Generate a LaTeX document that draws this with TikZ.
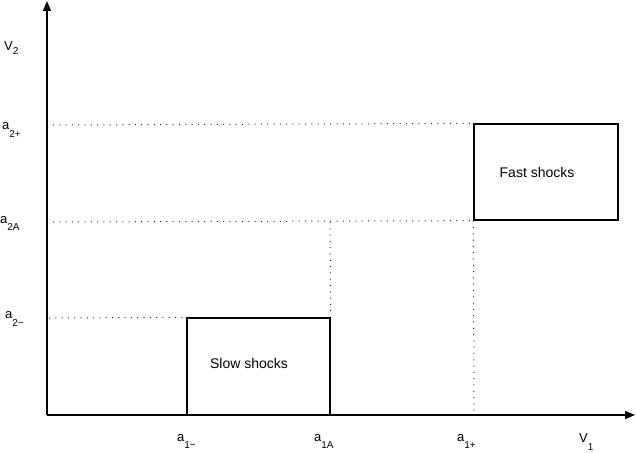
\documentclass[tikz,border=0pt]{standalone}
\usepackage{fontspec}
\setmainfont{Liberation Sans}
\usetikzlibrary{arrows.meta}
\newcommand{\lab}[3]{#1\raisebox{-#3pt}{\fontsize{10}{11}\selectfont #2}}
\begin{document}
\begin{tikzpicture}[x=1pt,y=-1pt,
  axis/.style={line width=1.5pt,-{Triangle[length=10pt,width=8pt]}},
  guide/.style={black!85,line width=1pt,dash pattern=on 1pt off 5.3pt},
  shockbox/.style={draw,line width=1.3pt,rectangle,inner sep=0pt},
  axlabel/.style={anchor=base west,inner sep=0pt,font=\fontsize{13}{15}\selectfont},
  boxtext/.style={anchor=base,inner sep=0pt,font=\fontsize{14}{16}\selectfont}]
\useasboundingbox (0,0) rectangle (636,452);
% coordinates
\coordinate (O) at (47,415);
\coordinate (ytop) at (47,1);
\coordinate (xend) at (635,415);
% boxes
\node[shockbox,minimum width=143pt,minimum height=97pt] (slow) at (258.5,366.5) {};
\node[shockbox,minimum width=144pt,minimum height=96pt] (fast) at (546,172) {};
\node[boxtext] (slowtxt) at (249,368) {Slow shocks};
\node[boxtext] (fasttxt) at (537,177) {Fast shocks};
% guide end points
\coordinate (g1s) at (53,125);
\coordinate (g2s) at (53,222);
\coordinate (g3s) at (49,318);
\coordinate (c1A) at (330,222);
\coordinate (c1p) at (474,415);
% guides
\draw[guide] (g1s) -- (fast.north west);
\draw[guide] (g2s) -- (fast.south west);
\draw[guide] (g3s) -- (slow.north west);
\draw[guide] (c1A) -- (slow.north east);
\draw[guide] (fast.south west) -- (c1p);
% axes
\draw[axis] (O) -- (ytop);
\draw[axis] (O) -- (xend);
% labels
\node[axlabel] (V2) at (4,51) {\lab{V}{2}{3}};
\node[axlabel] (a2p) at (2,129) {\lab{a}{2+}{8}};
\node[axlabel] (a2A) at (0,223) {\lab{a}{2A}{7}};
\node[axlabel] (a2m) at (5,318) {\lab{a}{2\textminus}{8}};
\node[axlabel] (a1m) at (177,441) {\lab{a}{1\textminus}{7}};
\node[axlabel] (a1A) at (314,441) {\lab{a}{1A}{7}};
\node[axlabel] (a1p) at (457,441) {\lab{a}{1+}{7}};
\node[axlabel] (V1) at (579,442) {\lab{V}{1}{8}};
\end{tikzpicture}
\end{document}
